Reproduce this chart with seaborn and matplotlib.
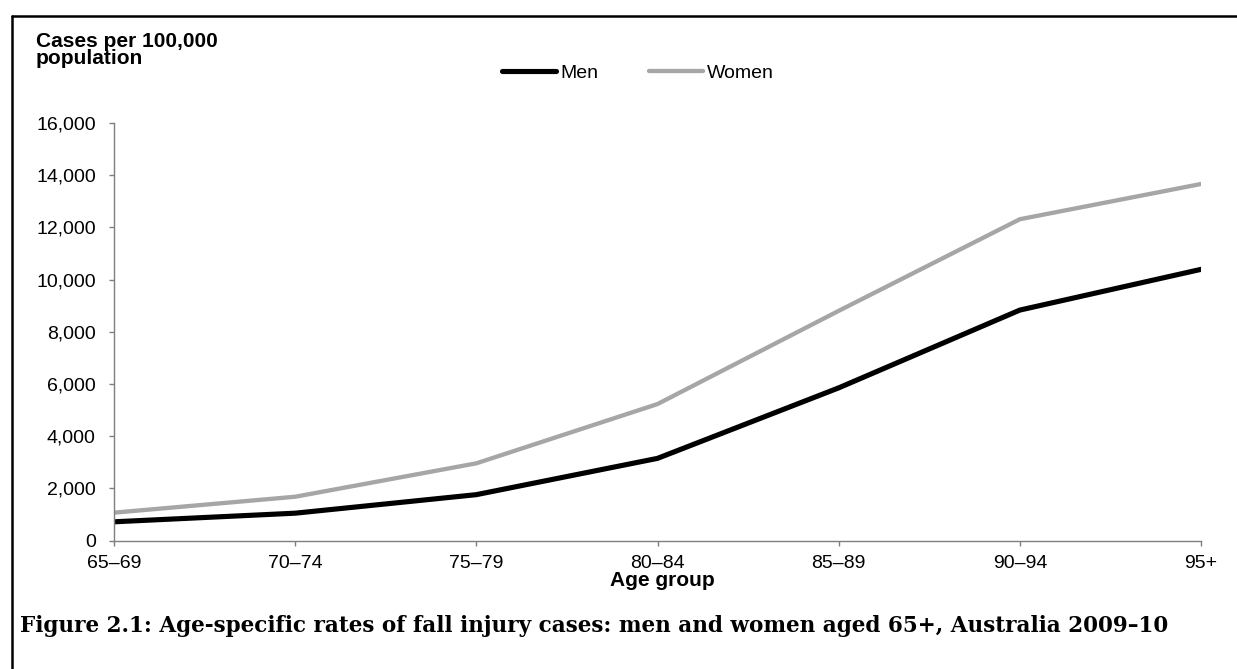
import matplotlib
matplotlib.use("Agg")
import matplotlib.pyplot as plt
import seaborn as sns
import pandas as pd
from matplotlib.lines import Line2D
from matplotlib.ticker import FuncFormatter

age_groups = ["65–69", "70–74", "75–79", "80–84", "85–89", "90–94", "95+"]
men = [720, 1050, 1760, 3150, 5850, 8830, 10390]
women = [1070, 1680, 2960, 5230, 8800, 12310, 13660]
series_names = ["Men", "Women"]
colors = {"Men": "#000000", "Women": "#A6A6A6"}
widths = {"Men": 3.7, "Women": 3.1}

df = pd.DataFrame({
    "Age group": age_groups * 2,
    "Rate": men + women,
    "Sex": ["Men"] * len(age_groups) + ["Women"] * len(age_groups),
})
df["pos"] = df["Age group"].map({a: i for i, a in enumerate(age_groups)})

sns.set_theme(style="white")
plt.rcParams["font.family"] = ["Liberation Sans", "DejaVu Sans"]
plt.rcParams["text.color"] = "black"

W, H = 1237, 669
FS = 14
FS_TITLE = 15
fig = plt.figure(figsize=(W / 100, H / 100), dpi=100)
ax = fig.add_axes([114 / W, 1 - 540.6 / H, (1201 - 114) / W, (540.6 - 122.9) / H])

for name in ["Women", "Men"]:
    sns.lineplot(data=df[df["Sex"] == name], x="pos", y="Rate", color=colors[name],
                 linewidth=widths[name], legend=False, ax=ax,
                 solid_capstyle="round", solid_joinstyle="round")

ax.set_xlim(0, len(age_groups) - 1)
ax.set_ylim(0, 16000)
ax.set_xticks(range(len(age_groups)))
ax.set_xticklabels(age_groups)
ax.set_yticks(range(0, 16001, 2000))
ax.yaxis.set_major_formatter(FuncFormatter(lambda v, p: f"{int(v):,}"))
ax.set_xlabel("")
ax.set_ylabel("")

for s in ["top", "right"]:
    ax.spines[s].set_visible(False)
for s in ["left", "bottom"]:
    ax.spines[s].set_color("#7F7F7F")
    ax.spines[s].set_linewidth(1.0)

ax.tick_params(axis="both", which="major", direction="out", length=3.6, width=1,
               color="#7F7F7F", labelsize=FS, labelcolor="#000000",
               left=True, bottom=True)
ax.tick_params(axis="y", pad=9.5)
ax.tick_params(axis="x", pad=6.5)

# Axis titles
fig.text(36 / W, 1 - 32 / H, "Cases per 100,000\npopulation", ha="left", va="top",
         fontsize=FS_TITLE, fontweight="bold", linespacing=0.85)
fig.text(662 / W, 1 - 581 / H, "Age group", ha="center", va="center",
         fontsize=FS_TITLE, fontweight="bold")

# Legend
handles = [Line2D([], [], color=colors[n], lw=widths[n], solid_capstyle="round") for n in series_names]
fig.legend(handles, series_names, loc="center", bbox_to_anchor=(638 / W, 1 - 73 / H),
           ncol=2, frameon=False, fontsize=FS, handlelength=2.8, handletextpad=0.2,
           columnspacing=2.6, borderpad=0)

# Caption
fig.text(20 / W, 1 - 626 / H,
         "Figure 2.1: Age-specific rates of fall injury cases: men and women aged 65+, Australia 2009–10",
         ha="left", va="center", fontsize=15.5, fontweight="bold",
         family=["DejaVu Serif"])

# Frame (top and left borders)
fig.add_artist(Line2D([11.5 / W, 1.0], [1 - 15.5 / H, 1 - 15.5 / H], transform=fig.transFigure,
                      color="black", lw=1.8))
fig.add_artist(Line2D([11.5 / W, 11.5 / W], [0, 1 - 15.5 / H], transform=fig.transFigure,
                      color="black", lw=1.8))

fig.savefig("out.png", dpi=100, facecolor="white")
